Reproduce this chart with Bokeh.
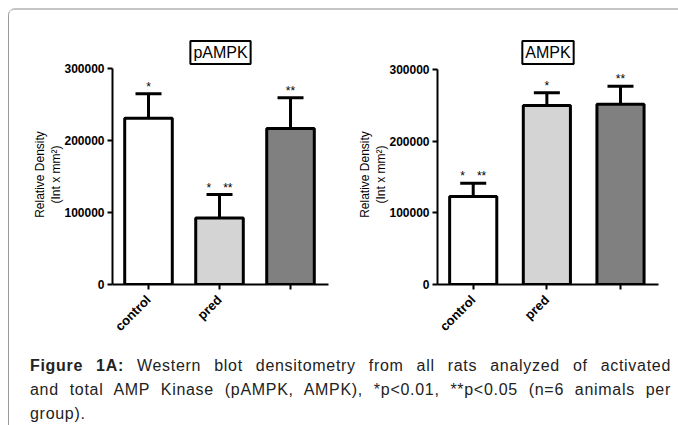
import math
from bokeh.plotting import figure
from bokeh.models import (ColumnDataSource, Whisker, TeeHead, FixedTicker,
                          NumeralTickFormatter, Range1d, Div, Title)
from bokeh.layouts import row, column
from bokeh.core.properties import value
from bokeh.embed import file_html
from bokeh.resources import INLINE

# ---- data ----
categories = ["control", "pred", ""]
bar_colors = ["#ffffff", "#d4d4d4", "#808080"]

pampk_mean = [231000, 92500, 216500]
pampk_sem = [34000, 32500, 43000]
pampk_stars = ["*", "*\u2003**", "**"]

ampk_mean = [123000, 250000, 252000]
ampk_sem = [18500, 18000, 25000]
ampk_stars = ["*\u2003**", "*", "**"]

y_ticks = [0, 100000, 200000, 300000]
caption_line1 = "<b>Figure 1A:</b> Western blot densitometry from all rats analyzed of activated"
caption_line2 = "and total AMP Kinase (pAMPK, AMPK), *p&lt;0.01, **p&lt;0.05 (n=6 animals per"
caption_line3 = "group)."

FONT = "Liberation Sans"


def make_chart(title, means, sems, stars, width, border_left, border_right,
               x_start, x_end, y_end, bar_width):
    xs = list(range(len(categories)))
    tops = [m + s for m, s in zip(means, sems)]
    src = ColumnDataSource(dict(x=xs, mean=means, top=tops, color=bar_colors,
                                stars=stars))
    p = figure(width=width, height=332, output_backend="svg",
               toolbar_location=None, x_range=Range1d(x_start, x_end),
               y_range=Range1d(0, y_end), min_border_left=border_left,
               min_border_right=border_right, min_border_top=54,
               min_border_bottom=58)
    p.outline_line_color = None
    p.grid.visible = False
    p.background_fill_color = "white"
    p.border_fill_color = "white"

    p.title = Title(text=title, align="center", text_font=FONT,
                    text_font_size="16px", text_font_style="normal",
                    text_color="black", border_line_color="black",
                    border_line_width=2, padding=3, standoff=1)

    p.vbar(x="x", top="mean", bottom=0, width=bar_width, source=src,
           fill_color="color", line_color="black", line_width=3)

    w = Whisker(source=src, base="x", lower="mean", upper="top",
                line_color="black", line_width=3, lower_head=None,
                upper_head=TeeHead(size=26, line_color="black", line_width=3))
    p.add_layout(w)

    p.text(x="x", y="top", text="stars", source=src, text_align="center",
           text_baseline="bottom", text_font_size="12px",
           text_font=value(FONT), text_color="black")

    # y axis
    ya = p.yaxis[0]
    ya.ticker = FixedTicker(ticks=y_ticks)
    ya.formatter = NumeralTickFormatter(format="0")
    ya.bounds = (0, 300000)
    ya.axis_label = "Relative Density\n(Int x mm\u00b2)"
    ya.axis_label_text_font = FONT
    ya.axis_label_text_font_size = "12px"
    ya.axis_label_text_font_style = "normal"
    ya.axis_label_text_color = "black"
    ya.axis_label_standoff = -2
    ya.major_label_standoff = 3

    # x axis
    xa = p.xaxis[0]
    xa.ticker = FixedTicker(ticks=xs)
    xa.major_label_overrides = {i: c for i, c in zip(xs, categories)}
    xa.major_label_orientation = math.pi / 4
    xa.major_label_standoff = 8

    for ax in (xa, ya):
        ax.axis_line_width = 2
        ax.axis_line_color = "black"
        ax.major_tick_line_width = 2
        ax.major_tick_line_color = "black"
        ax.major_tick_out = 5
        ax.major_tick_in = 0
        ax.minor_tick_line_color = None
        ax.major_label_text_font = FONT
        ax.major_label_text_font_style = "bold"
        ax.major_label_text_color = "black"
    ya.major_label_text_font_size = "12px"
    xa.major_label_text_font_size = "13px"
    return p


p1 = make_chart("pAMPK", pampk_mean, pampk_sem, pampk_stars, 331, 103, 12,
                -0.507, 2.535, 305556, 0.67)
p2 = make_chart("AMPK", ampk_mean, ampk_sem, ampk_stars, 338, 97, 20,
                -0.485, 2.516, 307400, 0.64)

line_style = "text-align:justify; text-align-last:justify; margin:0;"
caption_html = (
    f"<div style=\"font-family:'Liberation Sans', Arial, sans-serif; font-size:16px;"
    f" letter-spacing:0.7px; line-height:24px; color:#222;"
    f" padding:7px 0 0 16px; width:657px; box-sizing:border-box;\">"
    f"<div style=\"{line_style}\">{caption_line1}</div>"
    f"<div style=\"{line_style}\">{caption_line2}</div>"
    f"<div style=\"margin:0;\">{caption_line3}</div>"
    f"</div>"
)
caption = Div(text=caption_html, width=669, height=83,
              styles={"overflow": "hidden"})

layout = column(row(p1, p2), caption,
                styles={"border-top": "2px solid #c4c4c4",
                        "border-left": "1px solid #9a9a9a",
                        "border-top-left-radius": "7px",
                        "margin-left": "8px", "margin-top": "8px"})

open("out.html", "w").write(file_html(layout, INLINE))
